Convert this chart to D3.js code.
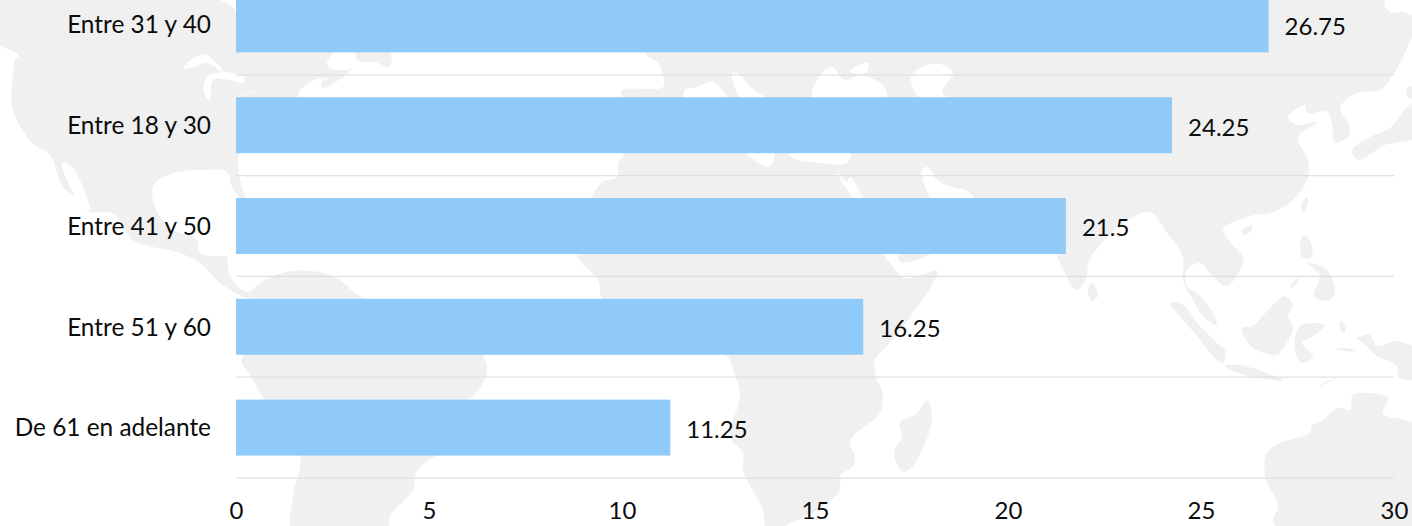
<!DOCTYPE html>
<html>
<head>
<meta charset="utf-8">
<script src="https://cdn.jsdelivr.net/npm/d3@7"></script>
<style>
  html, body {margin: 0; padding: 0; background: #fff;}
  svg {display: block;}
  text {font-family: Lato, "Open Sans", sans-serif; fill: #0c0c0c;}
</style>
</head>
<body>
<svg id="chart" width="1412" height="526"></svg>
<script>
// chart values, top to bottom
var categories = ['Entre 31 y 40', 'Entre 18 y 30', 'Entre 41 y 50', 'Entre 51 y 60', 'De 61 en adelante'];
var values = [26.75, 24.25, 21.5, 16.25, 11.25];
var xTicks = [0, 5, 10, 15, 20, 25, 30];

// backdrop world map, traced by hand in page pixels (decoration, not data)
var landShapes = [
  // the Americas
  [[-10,-10],[204,-4],[233,7],[240,20],[332,40],[332,53],[327,63],[330,68],[348,70],[352,68],[348,73],[323,88],[321,83],[328,78],[315,80],[300,90],[297,98],[260,130],[239,155],[239,175],[245,197],[250,254],[228,256],[228,263],[230,276],[247,292],[263,281],[293,271],[333,276],[360,296],[400,310],[470,340],[487,366],[483,383],[470,400],[455,440],[417,471],[413,490],[390,516],[387,530],[293,530],[293,496],[300,456],[270,410],[263,398],[253,380],[242,363],[242,356],[240,330],[250,299],[243,297],[220,283],[200,263],[180,253],[133,240],[113,213],[90,212],[80,200],[63,187],[50,155],[32,143],[13,110],[13,75],[16,58],[21,60],[16,53],[-10,38]],
  // Newfoundland side
  [[358,45],[387,45],[391,65],[386,67],[378,63],[357,60]],
  // Africa
  [[625,140],[625,153],[618,163],[617,177],[603,182],[592,197],[577,254],[582,263],[598,280],[603,299],[650,320],[727,356],[733,370],[740,396],[730,436],[743,453],[743,470],[763,510],[767,530],[797,520],[823,506],[840,490],[840,476],[853,466],[855,456],[850,445],[853,436],[880,413],[882,390],[877,380],[875,360],[890,343],[913,313],[933,283],[937,271],[905,278],[890,263],[883,254],[852,197],[838,172],[850,140]],
  // Eurasia
  [[645,30],[1300,-20],[1385,-10],[1385,7],[1393,13],[1403,12],[1420,22],[1412,37],[1403,57],[1393,75],[1380,90],[1357,93],[1340,108],[1350,127],[1348,137],[1335,142],[1332,123],[1327,112],[1307,113],[1305,105],[1288,117],[1297,125],[1317,122],[1298,138],[1308,160],[1308,177],[1293,200],[1273,212],[1247,217],[1223,230],[1243,257],[1243,263],[1227,286],[1210,273],[1200,263],[1187,270],[1187,286],[1200,296],[1213,313],[1217,325],[1203,316],[1193,300],[1183,280],[1183,257],[1167,233],[1150,212],[1125,222],[1100,245],[1088,263],[1087,276],[1077,290],[1060,263],[1050,240],[1000,235],[932,254],[917,260],[900,262],[897,254],[863,197],[850,177],[847,182],[838,172],[828,160],[850,140],[660,110],[623,97],[622,90],[663,87],[663,75],[658,63],[645,53]],
  // Madagascar
  [[927,400],[932,420],[913,466],[903,472],[894,453],[902,436],[900,423],[917,413]],
  // Sri Lanka
  [[1092,283],[1098,295],[1092,301],[1088,293]],
  // Japan and northern islands
  [[1352,150],[1370,137],[1390,128],[1407,107],[1420,100],[1420,135],[1385,145],[1358,160]],
  [[1407,88],[1420,87],[1420,100],[1408,97]],
  // Taiwan, Hainan
  [[1307,197],[1308,203],[1303,212],[1301,207]],
  [[1242,230],[1252,225],[1252,230],[1243,235]],
  // Philippines
  [[1302,237],[1308,237],[1312,257],[1302,257]],
  [[1307,263],[1327,270],[1335,293],[1328,301],[1314,296],[1317,285],[1320,275]],
  [[1290,286],[1300,276],[1292,288]],
  // Indonesia
  [[1170,303],[1183,305],[1200,326],[1217,343],[1225,350],[1223,363],[1213,356],[1197,336],[1183,320]],
  [[1225,366],[1240,365],[1267,373],[1283,380],[1257,378],[1233,371]],
  [[1242,328],[1253,326],[1270,308],[1285,296],[1293,305],[1288,316],[1293,328],[1282,350],[1277,355],[1257,350],[1248,343]],
  [[1300,326],[1325,325],[1313,336],[1302,343],[1313,356],[1302,363],[1295,350]],
  [[1340,321],[1345,326],[1345,333],[1341,331]],
  [[1335,349],[1345,348],[1357,351],[1345,351]],
  [[1320,386],[1337,378],[1323,383]],
  // New Guinea
  [[1357,338],[1370,335],[1377,346],[1397,341],[1420,353],[1420,378],[1398,377],[1397,366],[1377,356],[1363,343]],
  // Australia
  [[1353,395],[1388,398],[1383,413],[1420,428],[1420,530],[1280,530],[1273,520],[1278,506],[1265,476],[1267,453],[1280,443],[1310,433],[1312,426],[1323,420],[1337,408],[1350,410]]
];
var waterShapes = [
  // Gulf of Mexico and the Caribbean edge
  [[153,187],[158,180],[173,173],[200,170],[227,172],[232,187],[240,200],[250,254],[228,256],[200,253],[197,240],[173,230],[160,217],[153,200]],
  // Baja California
  [[62,163],[72,167],[90,210],[78,200]],
  // Great Lakes
  [[183,68],[203,54],[217,63],[223,72],[207,63],[190,68]],
  [[207,77],[227,72],[245,78],[243,83],[230,80],[213,80],[210,100],[204,93]],
  [[230,100],[267,87],[240,96]],
  // Mediterranean
  [[685,100],[685,90],[697,87],[713,82],[722,90],[728,100]],
  [[733,73],[738,73],[747,83],[757,92],[768,100],[743,100],[733,83]],
  [[745,150],[767,167],[773,163],[773,150]],
  [[788,150],[793,158],[820,163],[847,163],[850,150]],
  // Black Sea, Azov
  [[813,100],[818,78],[832,67],[845,80],[862,75],[885,88],[886,100]],
  [[850,71],[868,63],[867,72],[855,74]],
  // Caspian
  [[911,78],[920,68],[940,64],[953,73],[942,92],[950,100],[922,100]],
  // Persian Gulf
  [[922,170],[928,167],[937,180],[955,188],[966,190],[975,200],[933,200],[923,180]]
];

var margin = {top: -26, right: 18, bottom: 48, left: 236};
var width = 1412, height = 526;
var fontSize = 24.4;

var svg = d3.select('#chart');

var x = d3.scaleLinear()
  .domain([0, 30])
  .range([margin.left, width - margin.right]);

var y = d3.scaleBand()
  .domain(categories)
  .range([margin.top, height - margin.bottom])
  .paddingInner(0.445)
  .paddingOuter(0.2225);

// map
var mapLine = d3.line().curve(d3.curveCatmullRomClosed.alpha(0.5));
var map = svg.append('g').attr('class', 'map');
map.selectAll('.land').data(landShapes).enter().append('path')
  .attr('class', 'land')
  .attr('d', mapLine)
  .attr('fill', '#f0f0f0');
map.selectAll('.water').data(waterShapes).enter().append('path')
  .attr('class', 'water')
  .attr('d', mapLine)
  .attr('fill', '#ffffff');

// grid lines sit on the category band boundaries
svg.append('g').selectAll('line').data(categories).enter().append('line')
  .attr('x1', x(0))
  .attr('x2', x(30))
  .attr('y1', d => y(d) + y.bandwidth() + y.step() * y.paddingInner() / 2)
  .attr('y2', d => y(d) + y.bandwidth() + y.step() * y.paddingInner() / 2)
  .attr('stroke', '#dcdcdc')
  .attr('stroke-opacity', 0.85)
  .attr('stroke-width', 1.25);

// bars
var rows = categories.map((c, i) => ({category: c, value: values[i]}));
svg.append('g').selectAll('rect').data(rows).enter().append('rect')
  .attr('x', x(0))
  .attr('y', d => y(d.category))
  .attr('width', d => x(d.value) - x(0))
  .attr('height', y.bandwidth())
  .attr('fill', '#90caf9');

// value labels
svg.append('g').selectAll('text').data(rows).enter().append('text')
  .attr('x', d => x(d.value) + 16)
  .attr('y', d => y(d.category) + y.bandwidth() / 2 + 2)
  .attr('dy', '0.35em')
  .attr('font-size', 24)
  .text(d => d.value);

// axes
var yAxis = svg.append('g')
  .attr('transform', `translate(${margin.left},1)`)
  .call(d3.axisLeft(y).tickSize(0).tickPadding(25));
yAxis.select('.domain').remove();
yAxis.selectAll('text').attr('font-size', fontSize);

var xAxis = svg.append('g')
  .attr('transform', `translate(0,${height - margin.bottom})`)
  .call(d3.axisBottom(x).tickValues(xTicks).tickSize(0).tickPadding(24));
xAxis.select('.domain').remove();
xAxis.selectAll('text').attr('font-size', 24);
</script>
</body>
</html>
